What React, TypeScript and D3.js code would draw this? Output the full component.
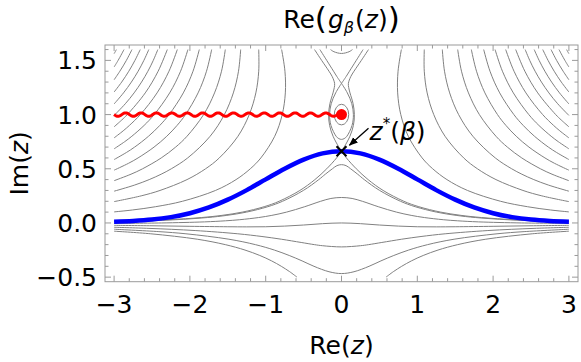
import React from "react";
import * as d3 from "d3";

// ---------------- data (data units: Re z, Im z) ----------------
// Axis ticks
const xTickValues = [-3, -2, -1, 0, 1, 2, 3];
const xTickLabels = ["\u22123", "\u22122", "\u22121", "0", "1", "2", "3"];
const yTickValues = [-0.5, 0, 0.5, 1, 1.5];
const yTickLabels = ["\u22120.5", "0.0", "0.5", "1.0", "1.5"];
const xDomain = [-3.12, 3.12];
const yDomain = [-0.542, 1.642];
const xDataRange = [-3, 3];
const yDataRange = [-0.5, 1.6];

// Contours of Re(g) — right half (Re z >= 0); the picture is mirror symmetric
const ffArc01 = [[0.79,1.6],[0.746,1.4],[0.741,1.2],[0.782,1.0],[0.881,0.8],[1.064,0.6],[1.203,0.5],[1.391,0.4],[1.662,0.3],[2.099,0.2],[2.452,0.15],[2.755,0.12],[3,0.102]];
const ffArc02 = [[1.092,1.6],[1.092,1.4],[1.13,1.2],[1.217,1.0],[1.366,0.8],[1.612,0.6],[1.793,0.5],[2.038,0.4],[2.394,0.3],[2.643,0.25],[3,0.197]];
const ffArc03 = [[1.33,1.6],[1.359,1.4],[1.427,1.2],[1.545,1.0],[1.733,0.8],[2.029,0.6],[2.245,0.5],[2.379,0.45],[2.537,0.4],[2.728,0.35],[3,0.293]];
const ffArc04 = [[1.533,1.6],[1.583,1.4],[1.675,1.2],[1.819,1.0],[2.038,0.8],[2.188,0.7],[2.378,0.6],[2.624,0.5],[2.777,0.45],[3,0.39]];
const ffArc05 = [[1.713,1.6],[1.781,1.4],[1.892,1.2],[2.058,1.0],[2.169,0.9],[2.305,0.8],[2.473,0.7],[2.684,0.6],[2.811,0.55],[3,0.487]];
const ffArc06 = [[1.876,1.6],[1.959,1.4],[2.087,1.2],[2.274,1.0],[2.397,0.9],[2.546,0.8],[2.729,0.7],[2.838,0.65],[3,0.585]];
const ffArc07 = [[2.026,1.6],[2.123,1.4],[2.267,1.2],[2.471,1.0],[2.604,0.9],[2.766,0.8],[2.86,0.75],[3,0.684]];
const ffArc08 = [[2.166,1.6],[2.276,1.4],[2.433,1.2],[2.654,1.0],[2.798,0.9],[2.88,0.85],[3,0.785]];
const ffArc09 = [[2.298,1.6],[2.419,1.4],[2.589,1.2],[2.826,1.0],[2.899,0.95],[3,0.887]];
const ffArc10 = [[2.423,1.6],[2.483,1.5],[2.554,1.4],[2.638,1.3],[2.736,1.2],[2.852,1.1],[3,0.992]];
const ffArc11 = [[2.542,1.6],[2.607,1.5],[2.683,1.4],[2.772,1.3],[2.876,1.2],[3,1.098]];
const ffArc12 = [[2.655,1.6],[2.725,1.5],[2.806,1.4],[2.9,1.3],[3,1.208]];
const ffArc13 = [[2.764,1.6],[2.838,1.5],[2.924,1.4],[3,1.321]];
const ffArc14 = [[2.869,1.6],[2.947,1.5],[3,1.439]];
const ffArc15 = [[2.97,1.6],[2.985,1.58],[3,1.562]];

// contours through / near the two saddles (start on the imaginary axis)
const saddleLowV = [[0,0.662],[0.065,0.6],[0.195,0.5],[0.351,0.4],[0.549,0.3],[0.823,0.2],[1.02,0.15],[1.309,0.1],[1.577,0.07],[1.847,0.05],[2.276,0.03],[2.655,0.02],[3,0.014]];
const saddleLowLens = [[0,0.662],[0.035,0.7],[0.111,0.8],[0.157,0.9],[0.17,1.0],[0.153,1.1],[0.112,1.2],[0.095,1.25],[0.091,1.288],[0.122,1.35],[0.165,1.4],[0.262,1.5],[0.356,1.6]];
const saddleUpArm = [[0,1.288],[0.06,1.35],[0.105,1.4],[0.195,1.5],[0.285,1.6]];
// contours crossing the imaginary axis smoothly (mirrored into full curves)
const saddleUpLens = [[0,0.771],[0.035,0.778],[0.071,0.8],[0.139,0.9],[0.157,1.0],[0.136,1.1],[0.077,1.2],[0,1.288]];
const saddleUpV = [[0,0.538],[0.06,0.529],[0.12,0.5],[0.213,0.45],[0.3,0.4],[0.503,0.3],[0.778,0.2],[0.972,0.15],[1.253,0.1],[1.512,0.07],[1.769,0.05],[2.186,0.03],[2.538,0.02],[3,0.012]];
const levelHump = [[0,0.235],[0.14,0.226],[0.275,0.2],[0.485,0.15],[0.725,0.1],[0.919,0.07],[1.093,0.05],[1.342,0.03],[1.528,0.02],[1.807,0.01],[2.377,0],[3,-0.004]];
const levelZero = [[0,0],[0.25,-0.0065],[0.5,-0.019],[0.75,-0.029],[1,-0.035],[1.25,-0.036],[1.5,-0.035],[2,-0.031],[2.5,-0.026],[3,-0.022]];
const levelLow1 = [[0,-0.221],[0.25,-0.21],[0.358,-0.2],[0.532,-0.18],[0.794,-0.15],[1.049,-0.125],[1.368,-0.1],[1.931,-0.07],[2.54,-0.05],[3,-0.04]];
const levelLow2 = [[0,-0.467],[0.165,-0.45],[0.363,-0.4],[0.52,-0.35],[0.69,-0.3],[0.886,-0.25],[1.136,-0.2],[1.485,-0.15],[2.052,-0.1],[2.409,-0.08],[3,-0.058]];
const levelTopU = [[0,1.564],[0.1,1.58],[0.145,1.6]];
// contour leaving through the bottom edge (not crossing the axis)
const levelLow3 = [[0.587,-0.5],[0.683,-0.45],[0.794,-0.4],[0.922,-0.35],[1.078,-0.3],[1.273,-0.25],[1.533,-0.2],[1.903,-0.15],[2.516,-0.1],[3,-0.076]];
// small closed contour around the branch point
const poleRingRadius = 0.095;

// deformed integration contour (blue), right half
const steepestPath = [[0,0.662],[0.25,0.642],[0.5,0.584],[0.75,0.5],[1,0.402],[1.25,0.303],[1.5,0.215],[1.75,0.143],[2,0.09],[2.25,0.054],[2.5,0.031],[2.75,0.018],[3,0.011]];

// special points
const saddlePoint = [0, 0.662];
const branchPoint = [0, 1];
const branchCutStart = [-3, 1];

const halfArcs = [ffArc01, ffArc02, ffArc03, ffArc04, ffArc05, ffArc06, ffArc07, ffArc08, ffArc09, ffArc10, ffArc11, ffArc12, ffArc13, ffArc14, ffArc15, saddleLowV, saddleLowLens, saddleUpArm, levelLow3];
const centerCurves = [saddleUpLens, saddleUpV, levelHump, levelZero, levelLow1, levelLow2, levelTopU];

const mirror = (pts: number[][]) => pts.map(([a, b]) => [-a, b]);
const fullFromCenter = (pts: number[][]) => [...mirror(pts).slice(1).reverse(), ...pts];

const FONT = "'DejaVu Sans', sans-serif";
const FS = 25;

export default function App() {
  const x = d3.scaleLinear().domain(xDomain).range([105, 578]);
  const y = d3.scaleLinear().domain(yDomain).range([281.7, 45]);
  const line = d3
    .line<number[]>()
    .x((d) => x(d[0]))
    .y((d) => y(d[1]))
    .curve(d3.curveCatmullRom.alpha(0.5));

  const contourPaths: string[] = [];
  halfArcs.forEach((c) => {
    contourPaths.push(line(c) as string);
    contourPaths.push(line(mirror(c)) as string);
  });
  centerCurves.forEach((c) => contourPaths.push(line(fullFromCenter(c)) as string));

  const bluePath = line(fullFromCenter(steepestPath)) as string;

  // wavy branch cut (style only: straight cut drawn as a squiggle)
  const x0 = x(branchCutStart[0]);
  const x1 = x(branchPoint[0]);
  const yc = y(branchPoint[1]);
  const period = 15.4;
  const amp = 1.7;
  const wavePts: [number, number][] = [];
  for (let px = x0; px <= x1; px += 0.5) {
    wavePts.push([px, yc + amp * Math.sin((2 * Math.PI * (px - x0)) / period)]);
  }
  const wavePath = d3.line()(wavePts) as string;

  const xMinor = d3.range(-3, 3.0001, 0.2).map((v) => +v.toFixed(2));
  const yMinor = d3.range(-0.5, 1.6001, 0.1).map((v) => +v.toFixed(2));

  const fx0 = 105, fx1 = 578, fy0 = 45, fy1 = 281.7;
  const frameColor = "#9a9a9a";
  const majLen = 6, minLen = 3.5;
  const isMajorX = (v: number) => xTickValues.some((t) => Math.abs(t - v) < 1e-6);
  const isMajorY = (v: number) => yTickValues.some((t) => Math.abs(t - v) < 1e-6);

  const sx = x(saddlePoint[0]);
  const sy = y(saddlePoint[1]);
  const cx = x(branchPoint[0]);
  const cy = y(branchPoint[1]);
  const ringRx = x(poleRingRadius) - x(0);
  const ringRy = y(0) - y(poleRingRadius);

  return (
    <svg
      width={581}
      height={362}
      style={{ position: "absolute", left: 0, top: 0, background: "#fff" }}
      fontFamily={FONT}
    >
      <defs>
        <clipPath id="dataClip">
          <rect x={x(xDataRange[0]) - 1} y={y(yDataRange[1]) - 0.5} width={x(xDataRange[1]) - x(xDataRange[0]) + 2} height={y(yDataRange[0]) - y(yDataRange[1]) + 1} />
        </clipPath>
        <marker id="arrowHead" viewBox="0 0 10 10" refX="9" refY="5" markerWidth="9" markerHeight="9" markerUnits="userSpaceOnUse" orient="auto">
          <path d="M0,1 L10,5 L0,9 Z" fill="#000" />
        </marker>
      </defs>

      {/* contours */}
      <g clipPath="url(#dataClip)" fill="none" stroke="#808080" strokeWidth={1}>
        {contourPaths.map((d, i) => (
          <path key={i} d={d} />
        ))}
        <ellipse cx={cx} cy={cy} rx={ringRx} ry={ringRy} />
      </g>

      {/* blue contour */}
      <path d={bluePath} fill="none" stroke="#0000ff" strokeWidth={4.5} />

      {/* branch cut and branch point */}
      <path d={wavePath} fill="none" stroke="#ff0000" strokeWidth={3} />
      <circle cx={cx} cy={cy} r={5.5} fill="#ff0000" />

      {/* saddle marker */}
      <g stroke="#000" strokeWidth={2}>
        <line x1={sx - 5} y1={sy - 5} x2={sx + 5} y2={sy + 5} />
        <line x1={sx - 5} y1={sy + 5} x2={sx + 5} y2={sy - 5} />
      </g>
      <line x1={sx + 27} y1={sy - 23} x2={sx + 8} y2={sy - 6} stroke="#000" strokeWidth={1.3} markerEnd="url(#arrowHead)" />
      <text x={sx + 28} y={sy - 11} fontSize={FS} fill="#000">
        <tspan fontStyle="italic">z</tspan>
        <tspan fontSize={15} dy={-11}>*</tspan>
        <tspan dy={11}>(</tspan>
        <tspan fontStyle="italic">β</tspan>
        <tspan>)</tspan>
      </text>

      {/* frame */}
      <rect x={fx0} y={fy0} width={fx1 - fx0} height={fy1 - fy0} fill="none" stroke={frameColor} strokeWidth={1} />
      <g stroke={frameColor} strokeWidth={1}>
        {xMinor.map((v) => {
          const L = isMajorX(v) ? majLen : minLen;
          const px = x(v);
          return (
            <g key={"xt" + v}>
              <line x1={px} y1={fy1} x2={px} y2={fy1 - L} />
              <line x1={px} y1={fy0} x2={px} y2={fy0 + L} />
            </g>
          );
        })}
        {yMinor.map((v) => {
          const L = isMajorY(v) ? majLen : minLen;
          const py = y(v);
          return (
            <g key={"yt" + v}>
              <line x1={fx0} y1={py} x2={fx0 + L} y2={py} />
              <line x1={fx1} y1={py} x2={fx1 - L} y2={py} />
            </g>
          );
        })}
      </g>

      {/* tick labels */}
      <g fontSize={FS} fill="#000">
        {xTickValues.map((v, i) => (
          <text key={"xl" + v} x={x(v)} y={313} textAnchor="middle">
            {xTickLabels[i]}
          </text>
        ))}
        {yTickValues.map((v, i) => (
          <text key={"yl" + v} x={97} y={y(v) + 9} textAnchor="end">
            {yTickLabels[i]}
          </text>
        ))}
      </g>

      {/* axis labels and title */}
      <text x={x(0)} y={354} textAnchor="middle" fontSize={FS}>
        Re(<tspan fontStyle="italic">z</tspan>)
      </text>
      <text transform={`translate(28,${(fy0 + fy1) / 2}) rotate(-90)`} textAnchor="middle" fontSize={FS}>
        Im(<tspan fontStyle="italic">z</tspan>)
      </text>
      <text x={x(0)} y={28} textAnchor="middle" fontSize={FS}>
        Re<tspan fontSize={31} dy={1}>(</tspan>
        <tspan fontStyle="italic" dy={-1} dx={1}>g</tspan>
        <tspan fontStyle="italic" fontSize={16} dy={5}>β</tspan>
        <tspan dy={-5} dx={1}>(</tspan>
        <tspan fontStyle="italic">z</tspan>
        <tspan>)</tspan>
        <tspan fontSize={31} dy={1}>)</tspan>
      </text>
    </svg>
  );
}
